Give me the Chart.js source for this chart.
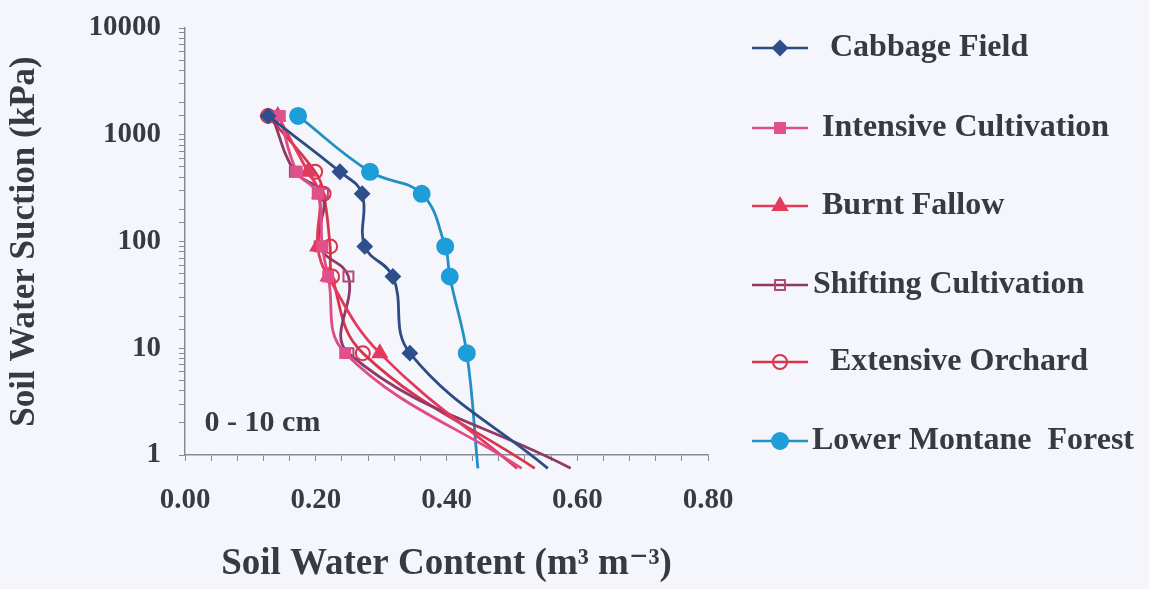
<!DOCTYPE html>
<html>
<head>
<meta charset="utf-8">
<script src="https://cdn.jsdelivr.net/npm/chart.js@4"></script>
<style>
  body { margin: 0; background: #f4f6fb; }
  #wrap { width: 1149px; height: 589px; position: relative; }
</style>
</head>
<body>
<div id="wrap"><canvas id="chart"></canvas></div>
<script>
// suction levels (kPa); last one is the near-saturation end of each curve
const suction = [1500, 450, 280, 90, 47, 9, 0.75];

const seriesNames = ['Cabbage Field', 'Intensive Cultivation', 'Burnt Fallow',
  'Shifting Cultivation', 'Extensive Orchard', 'Lower Montane  Forest'];

// soil water content (m3 m-3) at each suction level
const cabbageField = [0.127, 0.237, 0.271, 0.275, 0.318, 0.344, 0.555];
const intensiveCultivation = [0.145, 0.171, 0.203, 0.210, 0.219, 0.245, 0.515];
const burntFallow = [0.142, 0.188, 0.206, 0.203, 0.219, 0.298, 0.508];
const shiftingCultivation = [0.133, 0.168, 0.211, 0.206, 0.250, 0.250, 0.590];
const extensiveOrchard = [0.127, 0.199, 0.212, 0.222, 0.225, 0.272, 0.535];
const lowerMontaneForest = [0.173, 0.283, 0.362, 0.398, 0.405, 0.431, 0.448];

const FONT = "'Liberation Serif', 'DejaVu Serif', serif";
const TEXT = '#383a40';
const AXIS = '#858b96';

const styles = [
  { line: '#2f4c82', fill: '#2f4f8c', stroke: '#2f4f8c', point: 'rectRot', r: 7 },
  { line: '#de4c86', fill: '#e0508a', stroke: '#e0508a', point: 'rect', r: 7 },
  { line: '#e23a5c', fill: '#e43a5c', stroke: '#e43a5c', point: 'triangle', r: 8 },
  { line: '#8e3a64', fill: 'rgba(0,0,0,0)', stroke: '#b0487a', point: 'rect', r: 7 },
  { line: '#d8344e', fill: 'rgba(0,0,0,0)', stroke: '#d8344e', point: 'circle', r: 7 },
  { line: '#2290c4', fill: '#1e9ed8', stroke: '#1e9ed8', point: 'circle', r: 8 },
];

const allSeries = [cabbageField, intensiveCultivation, burntFallow,
  shiftingCultivation, extensiveOrchard, lowerMontaneForest];

const datasets = allSeries.map((vals, i) => {
  const s = styles[i];
  return {
    label: seriesNames[i],
    data: vals.map((x, j) => ({ x: x, y: suction[j] })),
    borderColor: s.line,
    borderWidth: 2.8,
    pointStyle: s.point,
    pointRadius: suction.map((v) => (v < 1 ? 0 : s.r)),
    pointBackgroundColor: s.fill,
    pointBorderColor: s.stroke,
    pointBorderWidth: 2,
    tension: 0.4,
    clip: { left: 10, top: 10, right: 10, bottom: 20 },
  };
});

// legend drawn by hand: line + marker, then the name
const legendPlugin = {
  id: 'sideLegend',
  afterDraw(chart) {
    const ctx = chart.ctx;
    const rows = [48, 128, 206, 285, 362, 441];
    const textX = [830, 822, 822, 813, 830, 812];
    ctx.save();
    seriesNames.forEach((name, i) => {
      const s = styles[i];
      const y = rows[i];
      ctx.strokeStyle = s.line;
      ctx.lineWidth = 2.5;
      ctx.beginPath();
      ctx.moveTo(752, y);
      ctx.lineTo(808, y);
      ctx.stroke();
      ctx.fillStyle = s.fill;
      ctx.strokeStyle = s.stroke;
      ctx.lineWidth = 2;
      Chart.helpers.drawPoint(ctx, { pointStyle: s.point, radius: s.r, rotation: 0, borderWidth: 2 }, 780, y);
      ctx.fillStyle = TEXT;
      ctx.font = 'bold 32px ' + FONT;
      ctx.textBaseline = 'middle';
      ctx.textAlign = 'left';
      ctx.fillText(name, textX[i], y);
    });
    // depth label
    const xs = chart.scales.x, ys = chart.scales.y;
    ctx.font = 'bold 30px ' + FONT;
    ctx.fillStyle = TEXT;
    ctx.fillText('0 - 10 cm', xs.getPixelForValue(0.03), ys.getPixelForValue(2.0));
    ctx.restore();
  },
};

new Chart(document.getElementById('chart'), {
  type: 'line',
  data: { datasets: datasets },
  options: {
    responsive: true,
    maintainAspectRatio: false,
    animation: false,
    layout: { padding: { left: 4, top: 28, right: 441, bottom: 2 } },
    plugins: { legend: { display: false }, tooltip: { enabled: false } },
    scales: {
      x: {
        type: 'linear',
        min: 0,
        max: 0.8,
        border: { color: AXIS, width: 1.5 },
        grid: { drawOnChartArea: false, color: AXIS, tickLength: 6 },
        ticks: {
          stepSize: 0.04,
          autoSkip: false,
          maxRotation: 0,
          padding: 22,
          color: TEXT,
          font: { family: FONT, size: 29, weight: 'bold' },
          callback: (v) => (Math.abs(v * 5 - Math.round(v * 5)) < 1e-6 ? v.toFixed(2) : ''),
        },
        title: {
          display: true,
          text: 'Soil Water Content (m³ m⁻³)',
          color: TEXT,
          font: { family: FONT, size: 37, weight: 'bold' },
          padding: { top: 0, bottom: 0 },
        },
        afterFit: (scale) => { scale.height = 132; },
      },
      y: {
        type: 'logarithmic',
        min: 1,
        max: 10000,
        border: { color: AXIS, width: 1.5 },
        grid: { drawOnChartArea: false, color: AXIS, tickLength: 6 },
        ticks: {
          autoSkip: false,
          padding: 18,
          color: TEXT,
          font: { family: FONT, size: 29, weight: 'bold' },
          callback: (v) => ([1, 10, 100, 1000, 10000].includes(v) ? String(v) : ''),
        },
        title: {
          display: true,
          text: 'Soil Water Suction (kPa)',
          color: TEXT,
          font: { family: FONT, size: 35, weight: 'bold' },
          padding: { top: 0, bottom: 0 },
        },
        afterFit: (scale) => {
          scale.width = 181;
          scale.paddingTop = 0;
          scale.paddingBottom = 0;
        },
      },
    },
  },
  plugins: [legendPlugin],
});
</script>
</body>
</html>
